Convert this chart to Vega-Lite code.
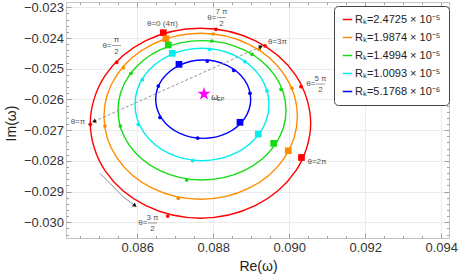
{
 "$schema": "https://vega.github.io/schema/vega-lite/v6.json",
 "width": 383, "height": 236,
 "autosize": {"type": "none"},
 "padding": {"left": 66, "top": 2, "right": 10, "bottom": 39},
 "background": "white",
 "config": {
  "view": {"stroke": "#c4c4c4", "strokeWidth": 1},
  "axis": {"labelFont": "Liberation Sans", "labelFontSize": 13, "labelColor": "#333", "titleFont": "Liberation Sans", "titleFontSize": 14, "titleFontWeight": "normal", "titleColor": "#222", "gridColor": "#ebebeb", "domain": false, "tickColor": "#a0a0a0", "labelFlush": false, "labelOverlap": false}
 },
 "datasets": {
  "curves": [
   {"s":"r","k":0,"x":0.090563,"y":-0.026774},{"s":"r","k":1,"x":0.090174,"y":-0.025227},{"s":"r","k":2,"x":0.089113,"y":-0.024095},{"s":"r","k":3,"x":0.087663,"y":-0.023681},{"s":"r","k":4,"x":0.086213,"y":-0.024095},{"s":"r","k":5,"x":0.085152,"y":-0.025227},{"s":"r","k":6,"x":0.084763,"y":-0.026774},{"s":"r","k":7,"x":0.085152,"y":-0.028321},{"s":"r","k":8,"x":0.086213,"y":-0.029453},{"s":"r","k":9,"x":0.087663,"y":-0.029867},{"s":"r","k":10,"x":0.089113,"y":-0.029453},{"s":"r","k":11,"x":0.090174,"y":-0.028321},
   {"s":"o","k":0,"x":0.090213,"y":-0.026549},{"s":"o","k":1,"x":0.089872,"y":-0.025197},{"s":"o","k":2,"x":0.088941,"y":-0.024208},{"s":"o","k":3,"x":0.087668,"y":-0.023846},{"s":"o","k":4,"x":0.086395,"y":-0.024208},{"s":"o","k":5,"x":0.085464,"y":-0.025197},{"s":"o","k":6,"x":0.085123,"y":-0.026549},{"s":"o","k":7,"x":0.085464,"y":-0.027901},{"s":"o","k":8,"x":0.086395,"y":-0.02889},{"s":"o","k":9,"x":0.087668,"y":-0.029252},{"s":"o","k":10,"x":0.088941,"y":-0.02889},{"s":"o","k":11,"x":0.089872,"y":-0.027901},
   {"s":"g","k":0,"x":0.089914,"y":-0.026354},{"s":"g","k":1,"x":0.089618,"y":-0.025219},{"s":"g","k":2,"x":0.088809,"y":-0.024388},{"s":"g","k":3,"x":0.087703,"y":-0.024084},{"s":"g","k":4,"x":0.086597,"y":-0.024388},{"s":"g","k":5,"x":0.085788,"y":-0.025219},{"s":"g","k":6,"x":0.085492,"y":-0.026354},{"s":"g","k":7,"x":0.085788,"y":-0.027489},{"s":"g","k":8,"x":0.086597,"y":-0.02832},{"s":"g","k":9,"x":0.087703,"y":-0.028624},{"s":"g","k":10,"x":0.088809,"y":-0.02832},{"s":"g","k":11,"x":0.089618,"y":-0.027489},
   {"s":"c","k":0,"x":0.089466,"y":-0.026165},{"s":"c","k":1,"x":0.08923,"y":-0.02525},{"s":"c","k":2,"x":0.088585,"y":-0.02458},{"s":"c","k":3,"x":0.087703,"y":-0.024335},{"s":"c","k":4,"x":0.086821,"y":-0.02458},{"s":"c","k":5,"x":0.086176,"y":-0.02525},{"s":"c","k":6,"x":0.08594,"y":-0.026165},{"s":"c","k":7,"x":0.086176,"y":-0.02708},{"s":"c","k":8,"x":0.086821,"y":-0.02775},{"s":"c","k":9,"x":0.087703,"y":-0.027995},{"s":"c","k":10,"x":0.088585,"y":-0.02775},{"s":"c","k":11,"x":0.08923,"y":-0.02708},
   {"s":"b","k":0,"x":0.088984,"y":-0.025993},{"s":"b","k":1,"x":0.088817,"y":-0.025355},{"s":"b","k":2,"x":0.088359,"y":-0.024888},{"s":"b","k":3,"x":0.087734,"y":-0.024717},{"s":"b","k":4,"x":0.087109,"y":-0.024888},{"s":"b","k":5,"x":0.086651,"y":-0.025355},{"s":"b","k":6,"x":0.086484,"y":-0.025993},{"s":"b","k":7,"x":0.086651,"y":-0.026631},{"s":"b","k":8,"x":0.087109,"y":-0.027098},{"s":"b","k":9,"x":0.087734,"y":-0.027269},{"s":"b","k":10,"x":0.088359,"y":-0.027098},{"s":"b","k":11,"x":0.088817,"y":-0.026631}
  ],
  "squares": [
   {"s":"r","x":0.086684,"y":-0.023827},{"s":"r","x":0.090321,"y":-0.027891},
   {"s":"o","x":0.086755,"y":-0.024022},{"s":"o","x":0.089974,"y":-0.02767},
   {"s":"g","x":0.086816,"y":-0.024228},{"s":"g","x":0.089589,"y":-0.027429},
   {"s":"c","x":0.086921,"y":-0.024498},{"s":"c","x":0.089184,"y":-0.027126},
   {"s":"b","x":0.087097,"y":-0.024856},{"s":"b","x":0.088703,"y":-0.026745}
  ],
  "dots": [
   {"s":"r","x":0.085458,"y":-0.024791},{"s":"r","x":0.084763,"y":-0.02681},{"s":"r","x":0.0868,"y":-0.029796},{"s":"r","x":0.090308,"y":-0.025585},{"s":"r","x":0.089361,"y":-0.024254},{"s":"r","x":0.088071,"y":-0.023716},
   {"s":"o","x":0.085632,"y":-0.024967},{"s":"o","x":0.08515,"y":-0.026865},{"s":"o","x":0.087079,"y":-0.029219},{"s":"o","x":0.090071,"y":-0.025628},{"s":"o","x":0.089203,"y":-0.024364},{"s":"o","x":0.088,"y":-0.023869},
   {"s":"g","x":0.085834,"y":-0.025149},{"s":"g","x":0.085553,"y":-0.026865},{"s":"g","x":0.0873,"y":-0.028624},{"s":"g","x":0.089782,"y":-0.02567},{"s":"g","x":0.089024,"y":-0.02453},{"s":"g","x":0.087958,"y":-0.024097},
   {"s":"c","x":0.086132,"y":-0.025358},{"s":"c","x":0.086026,"y":-0.026816},{"s":"c","x":0.087458,"y":-0.027995},{"s":"c","x":0.089413,"y":-0.025719},{"s":"c","x":0.088834,"y":-0.024771},{"s":"c","x":0.087905,"y":-0.024368},
   {"s":"b","x":0.086553,"y":-0.025563},{"s":"b","x":0.086597,"y":-0.026588},{"s":"b","x":0.087589,"y":-0.027256},{"s":"b","x":0.088966,"y":-0.0258},{"s":"b","x":0.088539,"y":-0.025055},{"s":"b","x":0.087842,"y":-0.024749}
  ],
  "star": [{"x":0.087755,"y":-0.025823}],
  "plain": [
   {"t":"θ=0 (4π)","x":0.086663,"y":-0.023528},
   {"t":"θ=π","x":0.084439,"y":-0.026745},
   {"t":"θ=3π","x":0.089689,"y":-0.02412},
   {"t":"θ=2π","x":0.090729,"y":-0.028028}
  ],
  "fracs": [
   {"n":"7 π","d":"2","x":0.088216,"y":-0.023332},
   {"n":"π","d":"2","x":0.085453,"y":-0.024244},
   {"n":"5 π","d":"2","x":0.090821,"y":-0.025498},
   {"n":"3 π","d":"2","x":0.0864,"y":-0.030024}
  ]
 },
 "resolve": {"axis": {"x": "independent", "y": "independent"}},
 "layer": [
  {
   "data": {"name": "curves"},
   "mark": {"type": "line", "interpolate": "cardinal-closed", "strokeWidth": 1.4},
   "encoding": {
    "x": {"field": "x", "type": "quantitative", "scale": {"domain": [0.084124, 0.094203], "nice": false, "zero": false},
     "axis": {"orient": "bottom", "values": [0.086, 0.088, 0.09, 0.092, 0.094], "format": ".3f", "title": "Re(ω)", "grid": true, "tickSize": -5, "labelPadding": 8.5, "titleX": 192, "titleY": 28, "titleBaseline": "middle", "titleAlign": "center"}},
    "y": {"field": "y", "type": "quantitative", "scale": {"domain": [-0.030512, -0.022827], "nice": false, "zero": false},
     "axis": {"orient": "left", "values": [-0.023, -0.024, -0.025, -0.026, -0.027, -0.028, -0.029, -0.03], "format": ".3f", "title": "Im(ω)", "grid": true, "tickSize": -5, "labelPadding": 7.5, "titleX": -55, "titleY": 121, "titleBaseline": "middle", "titleAlign": "center", "titleAngle": -90}},
    "color": {"field": "s", "type": "nominal", "scale": {"domain": ["r", "o", "g", "c", "b"], "range": ["#ff0000", "#ff8c00", "#14dc14", "#00eeee", "#0000ff"]},
     "legend": {"title": null, "orient": "none", "legendX": 268, "legendY": 4, "symbolType": "stroke", "symbolStrokeWidth": 1.5, "symbolSize": 90, "labelFontSize": 11, "labelFont": "Liberation Sans", "labelColor": "#222", "rowPadding": 6, "padding": 8, "strokeColor": "#444", "cornerRadius": 4, "fillColor": "white", "labelOffset": 2,
      "labelExpr": "datum.value=='r'?'Rₖ=2.4725 × 10⁻⁵':datum.value=='o'?'Rₖ=1.9874 × 10⁻⁵':datum.value=='g'?'Rₖ=1.4994 × 10⁻⁵':datum.value=='c'?'Rₖ=1.0093 × 10⁻⁵':'Rₖ=5.1768 × 10⁻⁶'"}},
    "order": {"field": "k", "type": "quantitative"}
   }
  },
  {
   "data": {"name": "squares"},
   "mark": {"type": "square", "size": 45, "opacity": 1, "filled": true},
   "encoding": {
    "x": {"field": "x", "type": "quantitative",
     "axis": {"orient": "bottom", "values": [0.0845, 0.085, 0.0855, 0.0865, 0.087, 0.0875, 0.0885, 0.089, 0.0895, 0.0905, 0.091, 0.0915, 0.0925, 0.093, 0.0935], "labels": false, "grid": false, "title": null, "tickSize": -2.5}},
    "y": {"field": "y", "type": "quantitative",
     "axis": {"orient": "left", "values": [-0.0232,-0.0234,-0.0236,-0.0238,-0.0242,-0.0244,-0.0246,-0.0248,-0.0252,-0.0254,-0.0256,-0.0258,-0.0262,-0.0264,-0.0266,-0.0268,-0.0272,-0.0274,-0.0276,-0.0278,-0.0282,-0.0284,-0.0286,-0.0288,-0.0292,-0.0294,-0.0296,-0.0298,-0.0302,-0.0304], "labels": false, "grid": false, "title": null, "tickSize": -2.5}},
    "color": {"field": "s", "type": "nominal", "legend": null}
   }
  },
  {
   "data": {"name": "dots"},
   "mark": {"type": "circle", "size": 14, "opacity": 1},
   "encoding": {
    "x": {"field": "x", "type": "quantitative",
     "axis": {"orient": "top", "values": [0.086, 0.088, 0.09, 0.092, 0.094], "labels": false, "grid": false, "title": null, "tickSize": -5}},
    "y": {"field": "y", "type": "quantitative",
     "axis": {"orient": "right", "values": [-0.023, -0.024, -0.025, -0.026, -0.027, -0.028, -0.029, -0.03], "labels": false, "grid": false, "title": null, "tickSize": -5}},
    "color": {"field": "s", "type": "nominal", "legend": null}
   }
  },
  {
   "data": {"name": "star"},
   "mark": {"type": "point", "shape": "M0,-1L0.225,-0.309L0.951,-0.309L0.363,0.118L0.588,0.809L0,0.382L-0.588,0.809L-0.363,0.118L-0.951,-0.309L-0.225,-0.309Z", "filled": true, "size": 190, "color": "#ff00ff", "opacity": 1, "strokeWidth": 0},
   "encoding": {
    "x": {"field": "x", "type": "quantitative",
     "axis": {"orient": "top", "values": [0.0845, 0.085, 0.0855, 0.0865, 0.087, 0.0875, 0.0885, 0.089, 0.0895, 0.0905, 0.091, 0.0915, 0.0925, 0.093, 0.0935], "labels": false, "grid": false, "title": null, "tickSize": -2.5}},
    "y": {"field": "y", "type": "quantitative",
     "axis": {"orient": "right", "values": [-0.0232,-0.0234,-0.0236,-0.0238,-0.0242,-0.0244,-0.0246,-0.0248,-0.0252,-0.0254,-0.0256,-0.0258,-0.0262,-0.0264,-0.0266,-0.0268,-0.0272,-0.0274,-0.0276,-0.0278,-0.0282,-0.0284,-0.0286,-0.0288,-0.0292,-0.0294,-0.0296,-0.0298,-0.0302,-0.0304], "labels": false, "grid": false, "title": null, "tickSize": -2.5}}
   }
  },
  {
   "data": {"name": "star"},
   "mark": {"type": "text", "text": "ω", "fontSize": 8.5, "font": "DejaVu Sans", "fontStyle": "italic", "color": "#444", "align": "left", "baseline": "middle", "dx": 7, "dy": 3},
   "encoding": {"x": {"field": "x", "type": "quantitative", "axis": null}, "y": {"field": "y", "type": "quantitative", "axis": null}}
  },
  {
   "data": {"name": "star"},
   "mark": {"type": "text", "text": "EP", "fontSize": 5.5, "font": "Liberation Sans", "color": "#444", "align": "left", "baseline": "middle", "dx": 13, "dy": 5},
   "encoding": {"x": {"field": "x", "type": "quantitative", "axis": null}, "y": {"field": "y", "type": "quantitative", "axis": null}}
  },
  {
   "data": {"values": [{"x": 0.08486, "y": -0.026719}, {"x": 0.089255, "y": -0.024279}]},
   "mark": {"type": "line", "color": "#8a8a8a", "strokeWidth": 0.9, "strokeDash": [3, 2]},
   "encoding": {"x": {"field": "x", "type": "quantitative", "axis": null}, "y": {"field": "y", "type": "quantitative", "axis": null}}
  },
  {
   "data": {"values": [{"x": 0.085018, "y": -0.028405}, {"x": 0.085368, "y": -0.028842}, {"x": 0.085632, "y": -0.029167}, {"x": 0.085895, "y": -0.029415}]},
   "mark": {"type": "line", "color": "#8a8a8a", "strokeWidth": 1, "interpolate": "natural"},
   "encoding": {"x": {"field": "x", "type": "quantitative", "axis": null}, "y": {"field": "y", "type": "quantitative", "axis": null}}
  },
  {
   "data": {"values": [{"x": 0.08486, "y": -0.026719}]},
   "mark": {"type": "point", "shape": "triangle-left", "angle": 336, "filled": true, "size": 22, "color": "#111", "opacity": 1},
   "encoding": {"x": {"field": "x", "type": "quantitative", "axis": null}, "y": {"field": "y", "type": "quantitative", "axis": null}}
  },
  {
   "data": {"values": [{"x": 0.089255, "y": -0.024279}]},
   "mark": {"type": "point", "shape": "triangle-right", "angle": 336, "filled": true, "size": 22, "color": "#111", "opacity": 1},
   "encoding": {"x": {"field": "x", "type": "quantitative", "axis": null}, "y": {"field": "y", "type": "quantitative", "axis": null}}
  },
  {
   "data": {"values": [{"x": 0.085939, "y": -0.029454}]},
   "mark": {"type": "point", "shape": "triangle-right", "angle": 37, "filled": true, "size": 22, "color": "#111", "opacity": 1},
   "encoding": {"x": {"field": "x", "type": "quantitative", "axis": null}, "y": {"field": "y", "type": "quantitative", "axis": null}}
  },
  {
   "data": {"name": "plain"},
   "mark": {"type": "text", "fontSize": 8, "font": "Liberation Sans", "color": "#555", "align": "center", "baseline": "middle"},
   "encoding": {"x": {"field": "x", "type": "quantitative", "axis": null}, "y": {"field": "y", "type": "quantitative", "axis": null}, "text": {"field": "t"}}
  },
  {
   "data": {"name": "fracs"},
   "mark": {"type": "text", "text": "θ=", "fontSize": 8, "font": "Liberation Sans", "color": "#555", "align": "right", "baseline": "middle", "dx": -5},
   "encoding": {"x": {"field": "x", "type": "quantitative", "axis": null}, "y": {"field": "y", "type": "quantitative", "axis": null}}
  },
  {
   "data": {"name": "fracs"},
   "mark": {"type": "text", "fontSize": 8, "font": "Liberation Sans", "color": "#555", "align": "center", "baseline": "middle", "dy": -5.5},
   "encoding": {"x": {"field": "x", "type": "quantitative", "axis": null}, "y": {"field": "y", "type": "quantitative", "axis": null}, "text": {"field": "n"}}
  },
  {
   "data": {"name": "fracs"},
   "mark": {"type": "text", "fontSize": 8, "font": "Liberation Sans", "color": "#555", "align": "center", "baseline": "middle", "dy": 6},
   "encoding": {"x": {"field": "x", "type": "quantitative", "axis": null}, "y": {"field": "y", "type": "quantitative", "axis": null}, "text": {"field": "d"}}
  },
  {
   "data": {"name": "fracs"},
   "mark": {"type": "tick", "orient": "horizontal", "size": 9, "thickness": 0.7, "color": "#777", "opacity": 1},
   "encoding": {"x": {"field": "x", "type": "quantitative", "axis": null}, "y": {"field": "y", "type": "quantitative", "axis": null}}
  }
 ]
}
